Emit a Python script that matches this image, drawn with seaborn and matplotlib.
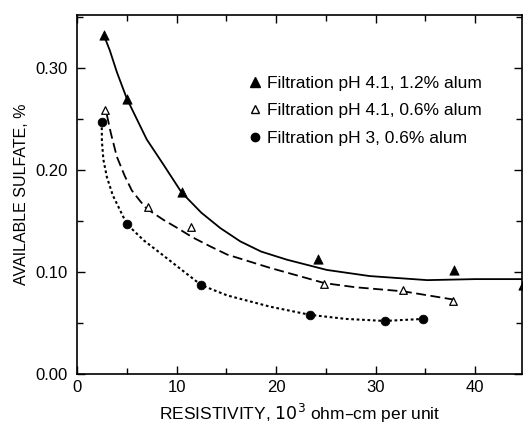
import numpy as np
import pandas as pd
import matplotlib
matplotlib.use('Agg')
import matplotlib.pyplot as plt
from matplotlib.lines import Line2D
from matplotlib.ticker import MultipleLocator
import seaborn as sns


# measured points (resistivity in 10^3 ohm-cm, sulfate in %)
tri_fill_x = [2.7, 5.0, 10.5, 24.2, 37.9, 44.8]
tri_fill_y = [0.332, 0.270, 0.178, 0.113, 0.102, 0.087]

tri_open_x = [2.8, 7.1, 11.5, 24.8, 32.8, 37.8]
tri_open_y = [0.259, 0.164, 0.144, 0.088, 0.082, 0.072]

circ_x = [2.5, 5.0, 12.5, 23.4, 30.9, 34.8]
circ_y = [0.247, 0.147, 0.087, 0.058, 0.052, 0.054]

# hand drawn curves
solid_x = [2.7, 3.3, 4.0, 5.0, 6.0, 7.0, 8.7, 10.5, 12.5, 14.4, 16.4, 18.5, 21.1, 25.1, 29.4, 35.2, 40.0, 44.7]
solid_y = [0.332, 0.317, 0.296, 0.270, 0.250, 0.230, 0.205, 0.178, 0.158, 0.143, 0.130, 0.120, 0.112, 0.102,
           0.096, 0.092, 0.093, 0.093]

dashed_x = [3.0, 3.4, 4.0, 4.8, 5.5, 6.3, 7.0, 8.7, 10.1, 11.6, 13.4, 15.1, 19.4, 24.9, 28.0, 32.8, 37.8]
dashed_y = [0.254, 0.236, 0.213, 0.194, 0.180, 0.170, 0.162, 0.151, 0.143, 0.134, 0.125, 0.117, 0.104, 0.089,
            0.085, 0.081, 0.073]

dotted_x = [2.48, 2.5, 2.65, 3.0, 3.6, 4.3, 5.0, 6.7, 8.3, 10.0, 12.5, 15.1, 19.4, 23.4, 27.0, 30.9, 34.8]
dotted_y = [0.247, 0.228, 0.210, 0.193, 0.175, 0.161, 0.147, 0.131, 0.119, 0.106, 0.087, 0.077, 0.066, 0.058,
            0.054, 0.052, 0.054]

labels = ['Filtration pH 4.1, 1.2% alum',
          'Filtration pH 4.1, 0.6% alum',
          'Filtration pH 3, 0.6% alum']

sns.set_style('ticks')
plt.rcParams['font.family'] = ['Liberation Sans', 'DejaVu Sans']
plt.rcParams['text.color'] = 'black'
plt.rcParams['axes.labelcolor'] = 'black'
plt.rcParams['xtick.color'] = 'black'
plt.rcParams['ytick.color'] = 'black'

fig = plt.figure(figsize=(5.24, 4.25), dpi=100)
ax = fig.add_axes([0.147, 0.120, 0.849, 0.845])

lw = 1.3
sns.lineplot(x=solid_x, y=solid_y, sort=False, estimator=None, color='black', lw=lw, ax=ax)
sns.lineplot(x=dashed_x, y=dashed_y, sort=False, estimator=None, color='black', lw=lw,
             ax=ax).lines[-1].set_dashes([5.5, 2.5])
sns.lineplot(x=dotted_x, y=dotted_y, sort=False, estimator=None, color='black', lw=1.5,
             ax=ax).lines[-1].set_dashes([1.3, 1.3])

sns.scatterplot(x=tri_fill_x, y=tri_fill_y, marker='^', s=45, color='black', edgecolor='black', ax=ax, zorder=3)
sns.scatterplot(x=tri_open_x, y=tri_open_y, marker='^', s=30, facecolor='white', edgecolor='black',
                linewidth=0.9, ax=ax, zorder=3)
sns.scatterplot(x=circ_x, y=circ_y, marker='o', s=40, color='black', edgecolor='black', ax=ax, zorder=3)

ax.set_xlim(0, 44.7)
ax.set_ylim(0, 0.352)
ax.xaxis.set_major_locator(MultipleLocator(10))
ax.xaxis.set_minor_locator(MultipleLocator(5))
ax.yaxis.set_major_locator(MultipleLocator(0.10))
ax.yaxis.set_minor_locator(MultipleLocator(0.05))
ax.yaxis.set_major_formatter(plt.FuncFormatter(lambda v, p: f'{v:.2f}'))
ax.tick_params(which='both', direction='in', top=True, right=True, width=1, labelsize=12, color='black',
               labelcolor='black')
ax.tick_params(which='major', length=6)
ax.tick_params(which='minor', length=4)
ax.tick_params(axis='y', pad=7)
ax.tick_params(axis='x', pad=4)
for s in ax.spines.values():
    s.set_linewidth(1.2)
    s.set_color('black')

ax.set_xlabel('RESISTIVITY, $10^3$ ohm\u2013cm per unit', fontsize=12.5, labelpad=5)
ax.set_ylabel('AVAILABLE SULFATE, %', fontsize=11.5, labelpad=4)

handles = [
    Line2D([], [], marker='^', ls='', color='black', markersize=6.5),
    Line2D([], [], marker='^', ls='', markerfacecolor='white', markeredgecolor='black', markersize=5.5),
    Line2D([], [], marker='o', ls='', color='black', markersize=6),
]
ax.legend(handles, labels, loc='upper left', bbox_to_anchor=(0.36, 0.855), frameon=False,
          fontsize=12.5, handletextpad=0.2, handlelength=1.0, labelspacing=0.72, borderpad=0)

fig.savefig('out.png', dpi=100)
